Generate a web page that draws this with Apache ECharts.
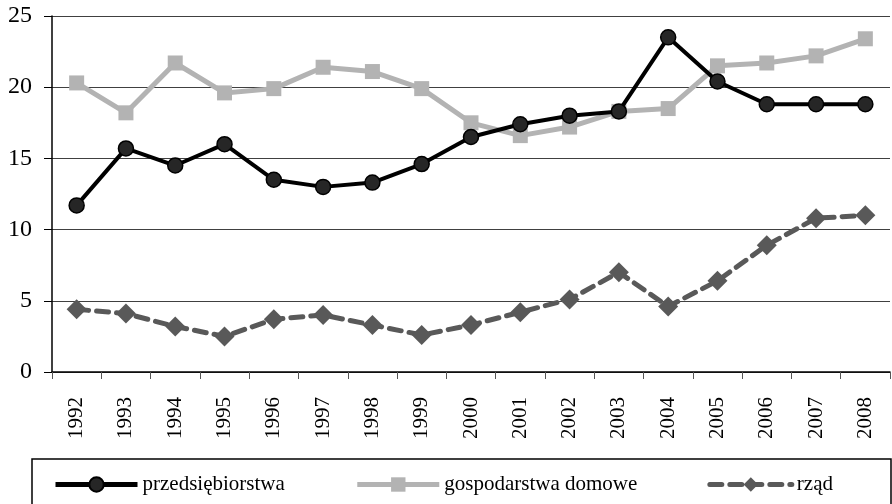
<!DOCTYPE html>
<html>
<head>
<meta charset="utf-8">
<script src="https://cdn.jsdelivr.net/npm/echarts@6/dist/echarts.min.js"></script>
<style>
  html, body { margin: 0; padding: 0; background: #fff; }
  #chart { width: 892px; height: 504px; }
</style>
</head>
<body>
<div id="chart"></div>
<script>
var years = ['1992', '1993', '1994', '1995', '1996', '1997', '1998', '1999', '2000',
  '2001', '2002', '2003', '2004', '2005', '2006', '2007', '2008'];
var przedsiebiorstwa = [11.7, 15.7, 14.5, 16.0, 13.5, 13.0, 13.3, 14.6, 16.5,
  17.4, 18.0, 18.3, 23.5, 20.4, 18.8, 18.8, 18.8];
var gospodarstwa = [20.3, 18.2, 21.7, 19.6, 19.9, 21.4, 21.1, 19.9, 17.5,
  16.6, 17.2, 18.3, 18.5, 21.5, 21.7, 22.2, 23.4];
var rzad = [4.4, 4.1, 3.2, 2.5, 3.7, 4.0, 3.3, 2.6, 3.3,
  4.2, 5.1, 7.0, 4.6, 6.4, 8.9, 10.8, 11.0];

var font = 'Liberation Serif, Times New Roman, serif';
var myChart = echarts.init(document.getElementById('chart'));
var option = {
  animation: false,
  grid: { left: 52, right: 2, top: 16, bottom: 132 },
  legend: {
    left: 53,
    top: 474,
    padding: 0,
    itemWidth: 82,
    itemHeight: 18,
    itemGap: 70,
    lineStyle: { width: 5 },
    textStyle: { fontFamily: font, fontSize: 21, color: '#000' },
    data: ['przedsiębiorstwa', 'gospodarstwa domowe', 'rząd']
  },
  graphic: [{
    type: 'rect',
    shape: { x: 32, y: 459, width: 859, height: 60 },
    style: { fill: 'none', stroke: '#000', lineWidth: 1.5 },
    z: -1
  }],
  xAxis: {
    type: 'category',
    data: years,
    boundaryGap: true,
    axisLine: { lineStyle: { color: '#000', width: 1.5 } },
    axisTick: { show: true, length: 7, lineStyle: { color: '#555' } },
    axisLabel: { rotate: 90, margin: 25, fontFamily: font, fontSize: 21, color: '#000' }
  },
  yAxis: {
    type: 'value',
    min: 0,
    max: 25,
    interval: 5,
    axisLine: { show: true, lineStyle: { color: '#000', width: 1.5 } },
    axisTick: { show: true, length: 8, lineStyle: { color: '#000' } },
    axisLabel: { margin: 20, fontFamily: font, fontSize: 24, color: '#000' },
    splitLine: { lineStyle: { color: '#404040', width: 1 } }
  },
  series: [{
    name: 'przedsiębiorstwa',
    type: 'line',
    data: przedsiebiorstwa,
    symbol: 'circle',
    symbolSize: 15,
    lineStyle: { color: '#000', width: 4 },
    itemStyle: { color: '#262626', borderColor: '#000', borderWidth: 1.5 },
    z: 3
  }, {
    name: 'gospodarstwa domowe',
    type: 'line',
    data: gospodarstwa,
    symbol: 'rect',
    symbolSize: 15,
    lineStyle: { color: '#b3b3b3', width: 5 },
    itemStyle: { color: '#b3b3b3' },
    z: 2
  }, {
    name: 'rząd',
    type: 'line',
    data: rzad,
    symbol: 'diamond',
    symbolSize: 20,
    lineStyle: { color: '#595959', width: 5, type: [12, 8], cap: 'round' },
    itemStyle: { color: '#595959' },
    z: 2
  }]
};
myChart.setOption(option);
</script>
</body>
</html>
